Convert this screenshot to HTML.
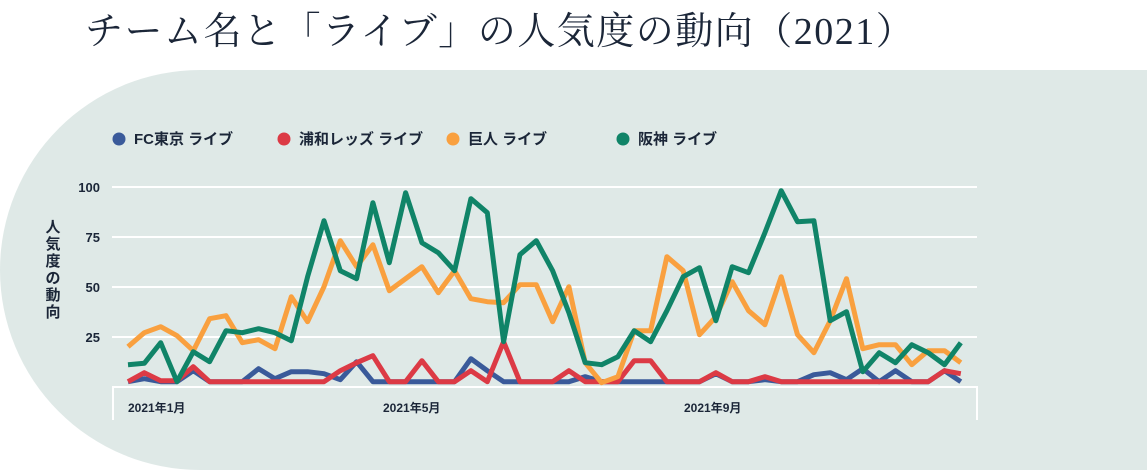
<!DOCTYPE html>
<html><head><meta charset="utf-8"><style>
html,body{margin:0;padding:0;background:#fff;}
body{width:1147px;height:470px;position:relative;overflow:hidden;}
.bg{position:absolute;left:0;top:70px;width:1147px;height:400px;background:#dfe9e7;border-radius:200px 0 0 200px;}
.title{position:absolute;left:85px;top:0px;font-family:"Liberation Serif","Noto Serif CJK SC",serif;font-size:38px;color:#1b2638;white-space:nowrap;letter-spacing:1.5px;}
svg{position:absolute;left:0;top:0;}
text{font-family:"Liberation Sans","Noto Sans CJK JP",sans-serif;font-weight:bold;fill:#1b2638;}
</style></head><body>
<div class="bg"></div>
<div class="title">チーム名と「ライブ」の人気度の動向（2021）</div>
<svg width="1147" height="470" id="s">
<g font-size="15">
<circle cx="119" cy="139" r="6.5" fill="#3a5a9a"/><text x="134" y="144">FC東京 ライブ</text>
<circle cx="284" cy="139" r="6.5" fill="#dc3a45"/><text x="299" y="144">浦和レッズ ライブ</text>
<circle cx="453" cy="139" r="6.5" fill="#f9a03f"/><text x="468" y="144">巨人 ライブ</text>
<circle cx="623" cy="139" r="6.5" fill="#108468"/><text x="638" y="144">阪神 ライブ</text>
</g>
<g stroke="#fff" stroke-width="2">
<line x1="112" y1="187" x2="977" y2="187"/><line x1="112" y1="237" x2="977" y2="237"/>
<line x1="112" y1="287" x2="977" y2="287"/><line x1="112" y1="337" x2="977" y2="337"/>
</g>
<g font-size="13" text-anchor="end">
<text x="100" y="192">100</text><text x="100" y="242">75</text><text x="100" y="292">50</text><text x="100" y="342">25</text>
</g>
<g font-size="15" text-anchor="middle">
<text x="53" y="232">人</text><text x="53" y="249">気</text><text x="53" y="266">度</text><text x="53" y="283">の</text><text x="53" y="300">動</text><text x="53" y="317">向</text>
</g>
<path d="M113 420 V387 H977 V420" fill="none" stroke="#fff" stroke-width="2"/>
<g font-size="12">
<text x="128" y="412">2021年1月</text><text x="383" y="412">2021年5月</text><text x="684" y="412">2021年9月</text>
</g>
<g id="lines" fill="none" stroke-width="5" stroke-linejoin="round"></g>
</svg>
<script>
var d={
"#3a5a9a":[2.5,4,2.5,2.5,8,2.5,2.5,2.5,9,4,7.5,7.5,6.5,3.5,12.5,2.5,2.5,2.5,2.5,2.5,2.5,14,8,2.5,2.5,2.5,2.5,2.5,5,2.5,2.5,2.5,2.5,2.5,2.5,2.5,6.5,2.5,2.5,3.5,2.5,2.5,6,7,3.5,9,2.5,8,2.5,2.5,8,2.5],
"#dc3a45":[2.5,7,3,3,10,2.5,2.5,2.5,2.5,2.5,2.5,2.5,2.5,8,12,15.5,2.5,2.5,13,2.5,2.5,8,2.5,22.5,2.5,2.5,2.5,8,2.5,2.5,2.5,13,13,2.5,2.5,2.5,7,2.5,2.5,5,2.5,2.5,2.5,2.5,2.5,2.5,2.5,2.5,2.5,2.5,8,6.5],
"#f9a03f":[20,27,30,25.5,18,34,35.5,22,23.5,19,45,32.5,50,73,60,71,48,54,60,47,58,44,42.5,42,51,51,32.5,50,12,2,5,28,28,65,58,26,35,52.5,38,31,55,26,17,33,54,19,21,21,11,18,18,12],
"#108468":[11,11.7,22,2.5,17.5,12.5,28,27,29,27,23,55,83,58,54,92,62,97,72,67,58,94,87,22.5,66,73,58,37,12,11,15,28,22.5,38,55,59.5,33,60,57,77,98,82.5,83,33,37.5,7.5,17,12,21,17,11,22]};
var g=document.getElementById("lines"),h="";
for(var c in d){var p=d[c].map(function(v,i){return (128+i*16.33).toFixed(1)+","+(386.7-v*2).toFixed(1)}).join(" ");
h+='<polyline points="'+p+'" stroke="'+c+'"/>';}
g.innerHTML=h;
</script>
</body></html>
